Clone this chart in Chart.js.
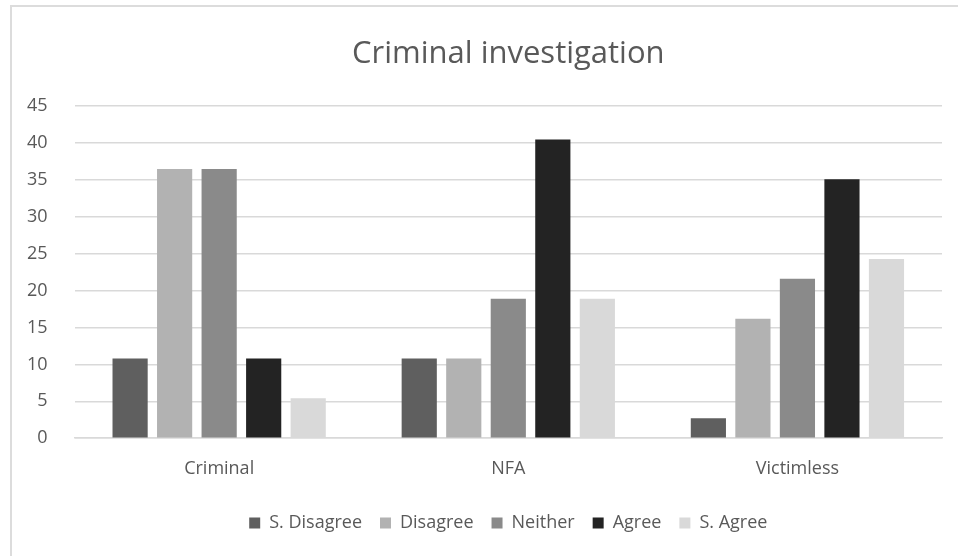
<!DOCTYPE html>
<html>
<head>
<meta charset="utf-8">
<script src="https://cdn.jsdelivr.net/npm/chart.js@4"></script>
<style>
  html, body { margin: 0; padding: 0; background: #fff; }
  #frame { position: absolute; left: 10px; top: 5px; width: 948px; height: 551px; border-left: 2px solid #dcdcdc; border-top: 2px solid #dcdcdc; }
  #wrap { position: absolute; left: 0; top: 0; width: 958px; height: 556px; }
</style>
</head>
<body>
<div id="frame"></div>
<div id="wrap"><canvas id="chart"></canvas></div>
<script>
const categories = ["Criminal", "NFA", "Victimless"];
const seriesNames = ["S. Disagree", "Disagree", "Neither", "Agree", "S. Agree"];
const sDisagree = [10.8, 10.8, 2.7];
const disagree = [36.5, 10.8, 16.2];
const neither = [36.5, 18.9, 21.6];
const agree = [10.8, 40.5, 35.1];
const sAgree = [5.4, 18.9, 24.3];
const colors = ["#5f5f5f", "#b2b2b2", "#8a8a8a", "#232323", "#d9d9d9"];

const values = [sDisagree, disagree, neither, agree, sAgree];
const font = "'Open Sans', sans-serif";

new Chart(document.getElementById("chart"), {
    type: "bar",
    data: {
        labels: categories,
        datasets: seriesNames.map((name, i) => ({
            label: name,
            data: values[i],
            backgroundColor: colors[i],
            categoryPercentage: 0.77,
            barPercentage: 0.79
        }))
    },
    options: {
        responsive: true,
        maintainAspectRatio: false,
        animation: false,
        layout: { padding: { left: 0, right: 16, top: 24, bottom: 14 } },
        scales: {
            x: {
                grid: { display: false },
                border: { color: "#d9d9d9", width: 1.5 },
                ticks: { color: "#595959", font: { family: font, size: 18 }, padding: 12 }
            },
            y: {
                min: 0,
                max: 45,
                ticks: { stepSize: 5, color: "#595959", font: { family: font, size: 18 }, padding: 27 },
                grid: { color: "#d9d9d9", lineWidth: 1.5, drawTicks: false },
                border: { display: false }
            }
        },
        plugins: {
            title: {
                display: true,
                fullSize: false,
                text: "Criminal investigation",
                color: "#595959",
                font: { family: font, size: 31, weight: "normal" },
                padding: { top: 12, bottom: 33 }
            },
            legend: {
                position: "bottom",
                fullSize: false,
                title: { display: true, text: " ", font: { size: 1 }, padding: { top: 0, bottom: 3 } },
                labels: {
                    color: "#595959",
                    font: { family: font, size: 18 },
                    boxWidth: 11,
                    boxHeight: 11,
                    padding: 18
                }
            },
            tooltip: { enabled: false }
        }
    }
});
</script>
</body>
</html>
